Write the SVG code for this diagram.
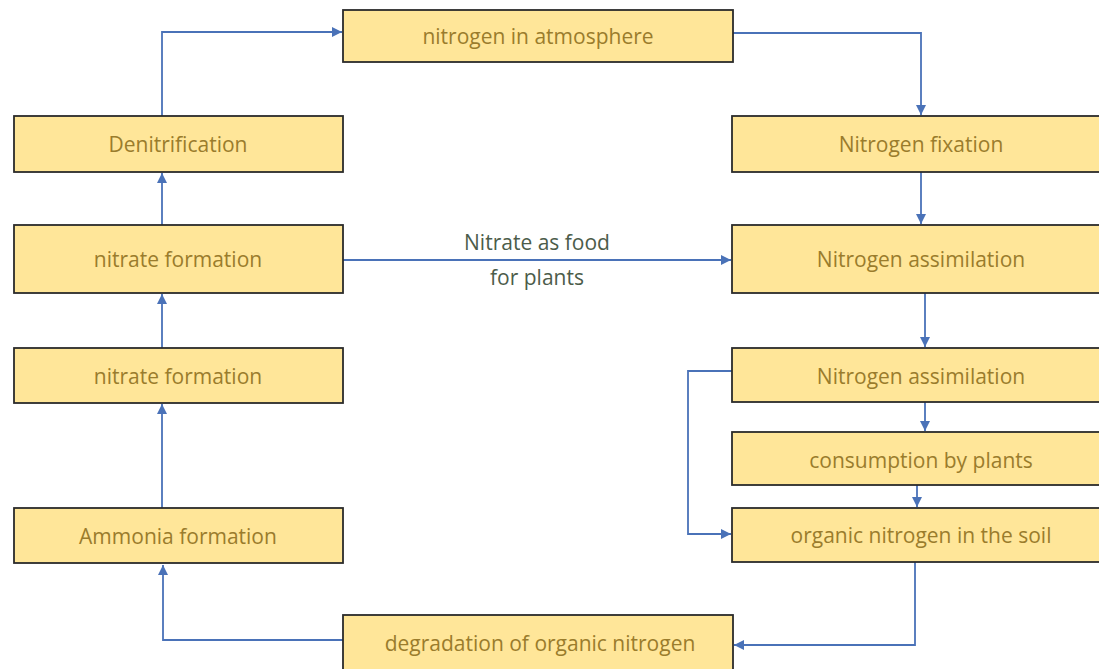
<svg xmlns="http://www.w3.org/2000/svg" width="1099" height="669" viewBox="0 0 1099 669">
<style>
.box{fill:#FFE699;stroke:#2b2b2b;stroke-width:1.8}
.t{font-family:"Open Sans","Liberation Sans",sans-serif;font-size:21px;fill:#9a7c2c;text-anchor:middle;dominant-baseline:central}
.lbl{font-family:"Open Sans","Liberation Sans",sans-serif;font-size:21px;fill:#4c5c4a;text-anchor:middle;dominant-baseline:central}
.c{fill:none;stroke:#4a72b8;stroke-width:1.8}
</style>
<defs>
<marker id="ah" viewBox="0 0 10 10" refX="10" refY="5" markerWidth="11" markerHeight="10" markerUnits="userSpaceOnUse" orient="auto">
<path d="M0,0 L10,5 L0,10 z" fill="#4a72b8"/>
</marker>
</defs>
<rect width="1099" height="669" fill="#ffffff"/>
<g id="connectors">
<path class="c" d="M162,116 V32 H342" marker-end="url(#ah)"/>
<path class="c" d="M733,33 H921 V115" marker-end="url(#ah)"/>
<path class="c" d="M162,225 V173" marker-end="url(#ah)"/>
<path class="c" d="M162,348 V294" marker-end="url(#ah)"/>
<path class="c" d="M162,508 V404" marker-end="url(#ah)"/>
<path class="c" d="M343,260 H731" marker-end="url(#ah)"/>
<path class="c" d="M921,172 V224" marker-end="url(#ah)"/>
<path class="c" d="M925,293 V347" marker-end="url(#ah)"/>
<path class="c" d="M925,402 V431" marker-end="url(#ah)"/>
<path class="c" d="M917,485 V507" marker-end="url(#ah)"/>
<path class="c" d="M732,371 H688 V534 H731" marker-end="url(#ah)"/>
<path class="c" d="M915,562 V645 H734" marker-end="url(#ah)"/>
<path class="c" d="M343,640 H163 V565" marker-end="url(#ah)"/>
</g>
<g id="n-atmosphere"><rect class="box" x="343" y="10" width="390" height="52"/><text class="t" x="538" y="36">nitrogen in atmosphere</text></g>
<g id="n-denitrification"><rect class="box" x="14" y="116" width="329" height="56"/><text class="t" x="178" y="144">Denitrification</text></g>
<g id="n-nitrate1"><rect class="box" x="14" y="225" width="329" height="68"/><text class="t" x="178" y="259">nitrate formation</text></g>
<g id="n-nitrate2"><rect class="box" x="14" y="348" width="329" height="55"/><text class="t" x="178" y="376">nitrate formation</text></g>
<g id="n-ammonia"><rect class="box" x="14" y="508" width="329" height="55"/><text class="t" x="178" y="536">Ammonia formation</text></g>
<g id="n-degradation"><rect class="box" x="343" y="615" width="390" height="70"/><text class="t" x="540" y="643">degradation of organic nitrogen</text></g>
<g id="n-fixation"><rect class="box" x="732" y="116" width="370" height="56"/><text class="t" x="921" y="144">Nitrogen fixation</text></g>
<g id="n-assim1"><rect class="box" x="732" y="225" width="370" height="68"/><text class="t" x="921" y="259">Nitrogen assimilation</text></g>
<g id="n-assim2"><rect class="box" x="732" y="348" width="370" height="54"/><text class="t" x="921" y="376">Nitrogen assimilation</text></g>
<g id="n-consumption"><rect class="box" x="732" y="432" width="370" height="53"/><text class="t" x="921" y="460">consumption by plants</text></g>
<g id="n-organic"><rect class="box" x="732" y="508" width="370" height="54"/><text class="t" x="921" y="535">organic nitrogen in the soil</text></g>
<g id="labels">
<text class="lbl" x="537" y="242">Nitrate as food</text>
<text class="lbl" x="537" y="277">for plants</text>
</g>
</svg>
